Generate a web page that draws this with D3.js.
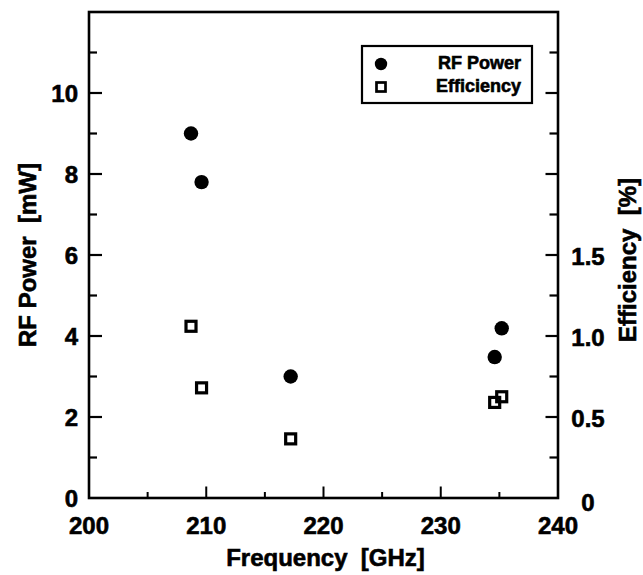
<!DOCTYPE html>
<html>
<head>
<meta charset="utf-8">
<script src="https://cdn.jsdelivr.net/npm/d3@7/dist/d3.min.js"></script>
<style>
  html, body { margin: 0; padding: 0; background: #fff; }
  svg { display: block; }
  text { font-family: "Liberation Sans", Arial, Helvetica, sans-serif; font-weight: bold; fill: #000; stroke: #000; stroke-width: 0.6px; }
</style>
</head>
<body>
<svg id="chart" width="643" height="575"></svg>
<script>
// ---- data ----
const powerFreq = [208.7, 209.6, 217.2, 234.6, 235.2];   // GHz
const powerValues = [9.0, 7.8, 3.0, 3.48, 4.19];          // mW
const effFreq = [208.7, 209.6, 217.2, 234.6, 235.2];      // GHz
const effValues = [1.06, 0.68, 0.365, 0.59, 0.625];       // %
const xTickLabels = [200, 210, 220, 230, 240];
const leftTickLabels = [0, 2, 4, 6, 8, 10];
const rightTickLabels = [0, 0.5, 1.0, 1.5];
const legendLabels = ["RF Power", "Efficiency"];

const svg = d3.select("#chart");
const L = 89, R = 558, T = 12, B = 498;

const x = d3.scaleLinear().domain([200, 240]).range([L, R]);
const y = d3.scaleLinear().domain([0, 12]).range([B, T]);
const y2 = d3.scaleLinear().domain([0, 3]).range([B, T]);

const g = svg.append("g");

// ticks (inward)
const xMajor = [210, 220, 230], xMinor = [205, 215, 225, 235];
g.selectAll(".xmaj").data(xMajor).enter().append("line")
  .attr("x1", d => x(d)).attr("x2", d => x(d)).attr("y1", B).attr("y2", B - 11.5)
  .attr("stroke", "#000").attr("stroke-width", 2);
g.selectAll(".xmin").data(xMinor).enter().append("line")
  .attr("x1", d => x(d)).attr("x2", d => x(d)).attr("y1", B).attr("y2", B - 6)
  .attr("stroke", "#000").attr("stroke-width", 2);

const yMajor = d3.range(2, 12, 2), yMinor = d3.range(1, 12, 2);
g.selectAll(".ymaj").data(yMajor).enter().append("line")
  .attr("x1", L).attr("x2", L + 13).attr("y1", d => y(d)).attr("y2", d => y(d))
  .attr("stroke", "#000").attr("stroke-width", 2.2);
g.selectAll(".ymin").data(yMinor).enter().append("line")
  .attr("x1", L).attr("x2", L + 8).attr("y1", d => y(d)).attr("y2", d => y(d))
  .attr("stroke", "#000").attr("stroke-width", 2.2);

const y2Major = [0.5, 1.0, 1.5, 2.0, 2.5], y2Minor = [0.25, 0.75, 1.25, 1.75, 2.25, 2.75];
g.selectAll(".y2maj").data(y2Major).enter().append("line")
  .attr("x1", R).attr("x2", R - 12.5).attr("y1", d => y2(d)).attr("y2", d => y2(d))
  .attr("stroke", "#000").attr("stroke-width", 2.2);
g.selectAll(".y2min").data(y2Minor).enter().append("line")
  .attr("x1", R).attr("x2", R - 8.5).attr("y1", d => y2(d)).attr("y2", d => y2(d))
  .attr("stroke", "#000").attr("stroke-width", 2.2);

// frame
g.append("rect").attr("x", L).attr("y", T).attr("width", R - L).attr("height", B - T)
  .attr("fill", "none").attr("stroke", "#000").attr("stroke-width", 2.6);

// tick labels
g.selectAll(".xl").data(xTickLabels).enter().append("text")
  .attr("x", d => x(d)).attr("y", 534).attr("text-anchor", "middle")
  .attr("font-size", 24).text(d => d);
g.selectAll(".yl").data(leftTickLabels).enter().append("text")
  .attr("x", 78).attr("y", d => y(d) + 9).attr("text-anchor", "end")
  .attr("font-size", 24).text(d => d);
g.selectAll(".y2l").data(rightTickLabels).enter().append("text")
  .attr("x", 588).attr("y", d => y2(d) + (d === 0 ? 13 : 10)).attr("text-anchor", "middle")
  .attr("font-size", 24).text(d => d === 0 ? "0" : d.toFixed(1));

// axis titles
svg.append("text").attr("x", (L + R) / 2 + 2).attr("y", 566).attr("text-anchor", "middle")
  .attr("font-size", 24).attr("xml:space", "preserve").text("Frequency  [GHz]");
svg.append("text").attr("transform", `translate(36,${(T + B) / 2}) rotate(-90)`)
  .attr("text-anchor", "middle").attr("font-size", 24).attr("xml:space", "preserve")
  .text("RF Power  [mW]");
svg.append("text").attr("transform", `translate(636,${(T + B) / 2 + 5}) rotate(-90)`)
  .attr("text-anchor", "middle").attr("font-size", 24).attr("xml:space", "preserve")
  .text("Efficiency  [%]");

// data marks
const powerData = powerFreq.map((f, i) => ({ f, v: powerValues[i] }));
const effData = effFreq.map((f, i) => ({ f, v: effValues[i] }));

g.selectAll(".pw").data(powerData).enter().append("circle")
  .attr("cx", d => x(d.f)).attr("cy", d => y(d.v)).attr("r", 7.2).attr("fill", "#000");
const s = 10;
g.selectAll(".ef").data(effData).enter().append("rect")
  .attr("x", d => x(d.f) - s / 2).attr("y", d => y2(d.v) - s / 2)
  .attr("width", s).attr("height", s)
  .attr("fill", "none").attr("stroke", "#000").attr("stroke-width", 3.2);

// legend
const lg = svg.append("g");
lg.append("rect").attr("x", 362).attr("y", 46).attr("width", 170).attr("height", 57)
  .attr("fill", "#fff").attr("stroke", "#000").attr("stroke-width", 2.2);
lg.append("circle").attr("cx", 381).attr("cy", 64).attr("r", 6.2).attr("fill", "#000");
lg.append("rect").attr("x", 381 - 4.5).attr("y", 87 - 4.5).attr("width", 9).attr("height", 9)
  .attr("fill", "none").attr("stroke", "#000").attr("stroke-width", 2.7);
lg.selectAll(".lt").data(legendLabels).enter().append("text")
  .attr("x", 521).attr("y", (d, i) => i === 0 ? 69 : 92).attr("text-anchor", "end")
  .attr("font-size", 18).text(d => d);
</script>
</body>
</html>
